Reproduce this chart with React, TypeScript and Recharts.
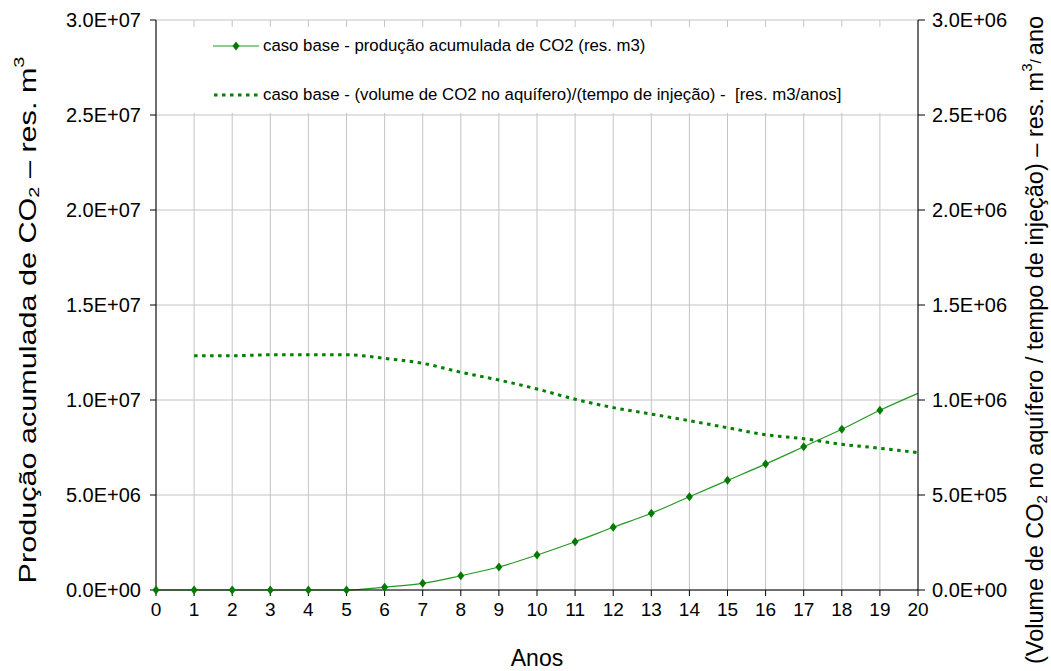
import React from 'react';
import { LineChart, Line, XAxis, YAxis, CartesianGrid } from 'recharts';

const anos = [0, 1, 2, 3, 4, 5, 6, 7, 8, 9, 10, 11, 12, 13, 14, 15, 16, 17, 18, 19, 20];
const producaoAcumulada = [
  0, 0, 0, 0, 0, 0, 1.5e5, 3.5e5, 7.5e5, 1.21e6, 1.84e6, 2.54e6, 3.3e6, 4.04e6, 4.91e6,
  5.77e6, 6.63e6, 7.54e6, 8.46e6, 9.46e6, 1.035e7,
];
const volumePorTempo = [
  null, 1.233e6, 1.233e6, 1.238e6, 1.238e6, 1.238e6, 1.219e6, 1.193e6, 1.146e6, 1.105e6,
  1.058e6, 1.004e6, 0.96e6, 0.926e6, 0.891e6, 0.854e6, 0.817e6, 0.796e6, 0.767e6, 0.746e6,
  0.723e6,
];
const leftTicks = [0, 5e6, 1e7, 1.5e7, 2e7, 2.5e7, 3e7];
const rightTicks = [0, 5e5, 1e6, 1.5e6, 2e6, 2.5e6, 3e6];

const data = anos.map((x, i) => ({
  x,
  producao: producaoAcumulada[i],
  volume: volumePorTempo[i],
}));

const FONT = '"Liberation Sans", Arial, sans-serif';
const GREEN = '#008000';

// Excel-like scientific notation: 1.5E+07
const sci = (v: number) => {
  if (v === 0) return '0.0E+00';
  const e = Math.floor(Math.log10(v) + 1e-9);
  const m = v / Math.pow(10, e);
  return `${m.toFixed(1)}E+${String(e).padStart(2, '0')}`;
};

const Diamond = (props: any) => {
  const { cx, cy, index } = props;
  if (index === 20 || cx == null) return <g key={`d${index}`} />;
  return (
    <path
      key={`d${index}`}
      d={`M${cx},${cy - 4.5} L${cx + 3.5},${cy} L${cx},${cy + 4.5} L${cx - 3.5},${cy} Z`}
      fill="#007a00"
      stroke="none"
    />
  );
};

const LeftTitle = () => {
  const cx = 28;
  const cy = 320;
  return (
    <text
      transform={`translate(${cx},${cy}) rotate(-90) scale(1.33,1)`}
      textAnchor="middle"
      dominantBaseline="central"
      fontFamily={FONT}
      fontSize={23}
      fill="#000"
    >
      Produção acumulada de CO<tspan dy={6} fontSize={15}>2</tspan>
      <tspan dy={-6}> – res. m</tspan>
      <tspan dy={-9} fontSize={15}>3</tspan>
    </text>
  );
};

const RightTitle = () => {
  const cx = 1035;
  const cy = 340;
  return (
    <text
      transform={`translate(${cx},${cy}) rotate(-90)`}
      textAnchor="middle"
      dominantBaseline="central"
      fontFamily={FONT}
      fontSize={23.5}
      fill="#000"
    >
      (Volume de CO<tspan dy={6} fontSize={15}>2</tspan>
      <tspan dy={-6}> no aquífero / tempo de injeção) – res. m</tspan>
      <tspan dy={-9} fontSize={15}>3</tspan>
      <tspan dy={9} fontSize={15}>/ </tspan>
      <tspan>ano</tspan>
    </text>
  );
};

const XTitle = () => (
  <text x={537} y={666} textAnchor="middle" fontFamily={FONT} fontSize={23} fill="#000">
    Anos
  </text>
);

const NoTick = () => <g />;

function ChartLegend() {
  return (
    <div
      style={{
        position: 'absolute',
        left: 158,
        top: 27,
        width: 758,
        height: 86,
        background: '#fff',
        fontFamily: FONT,
        fontSize: 16.8,
        color: '#000',
      }}
    >
      <div style={{ position: 'absolute', left: 55, top: 9, display: 'flex', alignItems: 'center' }}>
        <svg width={48} height={10}>
          <line x1={0} y1={5} x2={46} y2={5} stroke="#229922" strokeWidth={1.2} />
          <path d="M23,0.5 L26.5,5 L23,9.5 L19.5,5 Z" fill="#007a00" />
        </svg>
        <span style={{ marginLeft: 2 }}>caso base - produção acumulada de CO2 (res. m3)</span>
      </div>
      <div style={{ position: 'absolute', left: 55, top: 58, display: 'flex', alignItems: 'center' }}>
        <svg width={48} height={10}>
          <line x1={1} y1={5} x2={46} y2={5} stroke={GREEN} strokeWidth={3} strokeDasharray="3.5 4.5" />
        </svg>
        <span style={{ marginLeft: 2 }}>caso base - (volume de CO2 no aquífero)/(tempo de injeção) - &nbsp;[res. m3/anos]</span>
      </div>
    </div>
  );
}

export default function App() {
  return (
    <div style={{ position: 'absolute', left: 0, top: 0, width: 1051, height: 671, background: '#fff' }}>
      <LineChart
        width={1051}
        height={671}
        data={data}
        margin={{ top: 20, right: 0, bottom: 0, left: 0 }}
      >
        <CartesianGrid yAxisId="left" stroke="#c4c4c4" strokeWidth={1} />
        <XAxis
          dataKey="x"
          type="number"
          domain={[0, 20]}
          ticks={anos}
          interval={0}
          height={81}
          tickSize={6}
          tickMargin={7}
          axisLine={{ stroke: '#000' }}
          tickLine={{ stroke: '#000' }}
          tick={{ fontSize: 19, fill: '#000', fontFamily: FONT }}
          label={<XTitle />}
        />
        <XAxis
          xAxisId="top"
          orientation="top"
          dataKey="x"
          type="number"
          domain={[0, 20]}
          ticks={anos}
          interval={0}
          height={0}
          mirror
          tickSize={5}
          axisLine={{ stroke: '#999' }}
          tickLine={{ stroke: '#777' }}
          tick={NoTick}
        />
        <YAxis
          yAxisId="left"
          domain={[0, 3e7]}
          ticks={leftTicks}
          width={156}
          tickSize={6}
          tickMargin={9}
          tickFormatter={sci}
          axisLine={{ stroke: '#000' }}
          tickLine={{ stroke: '#000' }}
          tick={{ fontSize: 20, fill: '#000', fontFamily: FONT }}
          label={<LeftTitle />}
        />
        <YAxis
          yAxisId="right"
          orientation="right"
          domain={[0, 3e6]}
          ticks={rightTicks}
          width={133}
          tickSize={7}
          tickMargin={7}
          tickFormatter={sci}
          axisLine={{ stroke: '#000' }}
          tickLine={{ stroke: '#000' }}
          tick={{ fontSize: 20, fill: '#000', fontFamily: FONT }}
          label={<RightTitle />}
        />
        <Line
          yAxisId="left"
          type="monotone"
          dataKey="producao"
          stroke="#229922"
          strokeWidth={1.2}
          dot={Diamond}
          activeDot={false}
          isAnimationActive={false}
        />
        <Line
          yAxisId="right"
          type="monotone"
          dataKey="volume"
          stroke={GREEN}
          strokeWidth={3}
          strokeDasharray="3.5 4.5"
          dot={false}
          activeDot={false}
          connectNulls={false}
          isAnimationActive={false}
        />
      </LineChart>
      <ChartLegend />
    </div>
  );
}
